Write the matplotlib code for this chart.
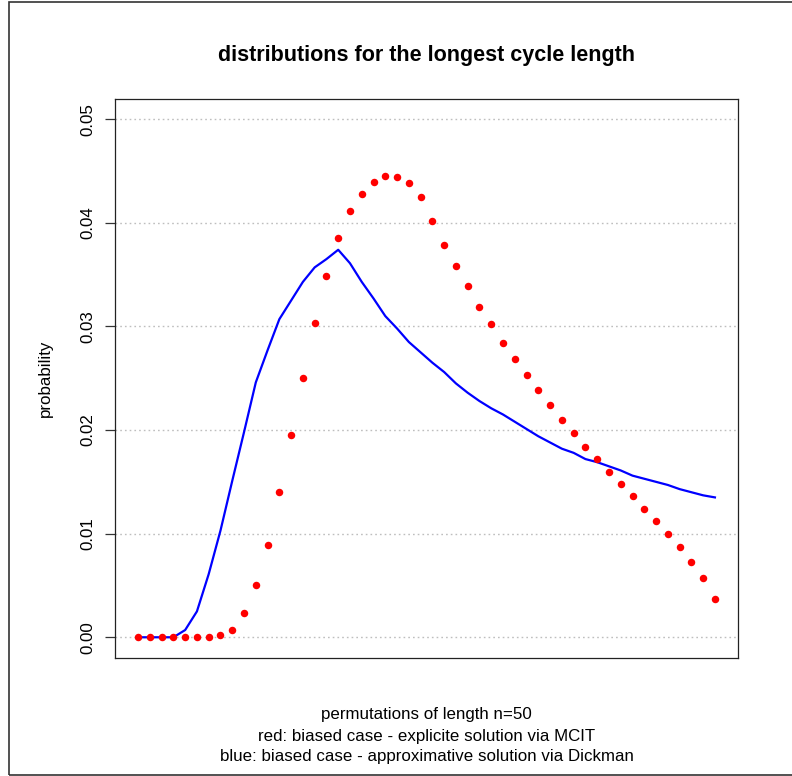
import numpy as np
import matplotlib
matplotlib.use("Agg")
from matplotlib import pyplot as plt
from matplotlib.patches import Rectangle

# longest cycle length 1..50
n = np.arange(1, 51)

# red: biased case - explicite solution via MCIT
prob_mcit = [0, 0, 0, 0, 0, 0, 0, 0.00026, 0.00074, 0.0023,
             0.0050, 0.0089, 0.0140, 0.0195, 0.0250, 0.0303, 0.0349, 0.0385, 0.0411, 0.0428,
             0.0439, 0.0445, 0.0444, 0.0438, 0.0425, 0.0402, 0.0379, 0.0358, 0.0339, 0.0319,
             0.0302, 0.0284, 0.0269, 0.0253, 0.0239, 0.0224, 0.0210, 0.0197, 0.0184, 0.0172,
             0.0160, 0.0148, 0.0136, 0.0124, 0.0112, 0.0100, 0.0087, 0.0073, 0.0057, 0.0037]

# blue: biased case - approximative solution via Dickman
prob_dickman = [0, 0, 0, 0, 0.0007, 0.0025, 0.0061, 0.0103, 0.0151, 0.0198,
                0.0246, 0.0277, 0.0307, 0.0325, 0.0343, 0.0357, 0.0365, 0.0374, 0.0361, 0.0343,
                0.0327, 0.0310, 0.0298, 0.0285, 0.0275, 0.0265, 0.0256, 0.0245, 0.0236, 0.0228,
                0.0221, 0.0215, 0.0208, 0.0201, 0.0194, 0.0188, 0.0182, 0.0178, 0.0172, 0.0169,
                0.0165, 0.0161, 0.0156, 0.0153, 0.0150, 0.0147, 0.0143, 0.0140, 0.0137, 0.0135]

yticks = [0.00, 0.01, 0.02, 0.03, 0.04, 0.05]
ytick_labels = ["0.00", "0.01", "0.02", "0.03", "0.04", "0.05"]

plt.rcParams['font.family'] = ['Liberation Sans', 'DejaVu Sans']

W, H = 792, 776
fig = plt.figure(figsize=(W / 100, H / 100), dpi=100)

# plot region in pixels: left 115, right 738, top 98.5, bottom 658
left, right, top, bottom = 115, 738, 98.5, 658
ax = fig.add_axes([left / W, 1 - bottom / H, (right - left) / W, (bottom - top) / H])

for y in yticks:
    ax.axhline(y, color="#bebebe", lw=1.0, ls=(0, (1.2, 2.2)), zorder=1)

ax.plot(n, prob_dickman, color="#0000ff", lw=1.6, zorder=2)
ax.plot(n, prob_mcit, ls="none", marker="o", ms=5.4, mfc="#ff0000", mec="none", zorder=3)

ax.set_xlim(1 - 0.04 * 49, 50 + 0.04 * 49)
ax.set_ylim(-0.002, 0.052)
ax.set_xticks([])
ax.set_yticks(yticks)
ax.set_yticklabels(ytick_labels, rotation=90, va="center", fontsize=12.2)
ax.tick_params(axis="y", length=7.2, width=0.9, color="#333333", pad=7)
for s in ax.spines.values():
    s.set_linewidth(0.9)
    s.set_color("#222222")

fig.text(45 / W, 1 - ((top + bottom) / 2) / H, "probability", rotation=90,
         ha="center", va="center", fontsize=12.2)
fig.text((left + right) / 2 / W, 1 - 55 / H, "distributions for the longest cycle length",
         ha="center", va="center", fontsize=15.5, fontweight="bold")
xlab = ["permutations of length n=50",
        "red: biased case - explicite solution via MCIT",
        "blue: biased case - approximative solution via Dickman"]
for i, line in enumerate(xlab):
    fig.text((left + right) / 2 / W, 1 - (715 + 21 * i) / H, line,
             ha="center", va="center", fontsize=12.2)

# outer frame of the picture
fig.patches.append(Rectangle((8.5 / W, 1 - 775 / H), 1.2, (775 - 2) / H,
                             transform=fig.transFigure, fill=False,
                             ec="#333333", lw=1.2))

fig.savefig("out.png", dpi=100)
